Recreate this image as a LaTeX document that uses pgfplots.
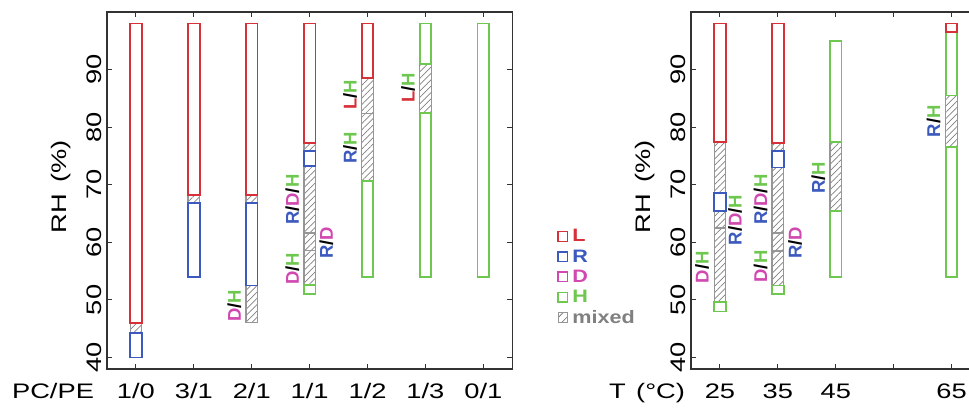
\documentclass[border=0pt]{standalone}
\usepackage{fontspec}
\setmainfont{Liberation Sans}[FakeStretch=1.3]
\newfontfamily\annfont{Liberation Sans}
\newfontfamily\legfont{Liberation Sans}[FakeStretch=1.2]
\usepackage{pgfplots}
\pgfplotsset{compat=1.18}
\usetikzlibrary{patterns.meta}
\definecolor{cL}{RGB}{214,48,56}
\definecolor{cR}{RGB}{60,90,190}
\definecolor{cD}{RGB}{208,72,176}
\definecolor{cH}{RGB}{110,200,80}
\definecolor{cM}{RGB}{150,150,150}
\definecolor{axc}{RGB}{50,50,50}
% segment: left x, right x, low RH, high RH, style
\newcommand\seg[5]{\addplot[#5] coordinates {(#1,#3) (#2,#3) (#2,#4) (#1,#4) (#1,#3) (#2,#3)};}
\newcommand\ann[3]{\node[rotate=90,font=\annfont\bfseries\fontsize{18.5}{20}\selectfont,inner sep=0pt] at (axis cs:#1,#2) {#3};}
\pgfplotsset{
  sBase/.style={sharp plot,mark=none,fill=none,line join=miter,forget plot},
  sL/.style={sBase,draw=cL,line width=1.8pt},
  sR/.style={sBase,draw=cR,line width=1.8pt},
  sD/.style={sBase,draw=cD,line width=1.8pt},
  sH/.style={sBase,draw=cH,line width=1.8pt},
  sM/.style={sBase,draw=cM,line width=1.3pt,pattern={Lines[angle=45,distance=4.5pt,line width=0.7pt]},pattern color=gray},
  panel/.style={
    scale only axis, anchor=south west, height=357pt,
    ymin=38, ymax=100, ytick={40,50,...,90},
    tick align=inside, major tick length=5pt,
    tick style={axc,line width=1pt},
    axis line style={axc,line width=1.2pt},
    /pgf/number format/assume math mode=true,
    tick label style={font=\fontsize{21}{24}\selectfont},
    label style={font=\fontsize{21}{24}\selectfont},
    yticklabel style={rotate=90,anchor=south,inner sep=5.5pt},
    xticklabel style={anchor=base,yshift=-30pt,inner sep=0pt},
    clip=false,
  },
}
\begin{document}
\begin{tikzpicture}
\useasboundingbox (0,0) rectangle (969pt,409pt);
\clip (0,0) rectangle (969pt,409pt);
% ---------------- left panel: PC/PE ----------------
\begin{axis}[panel, at={(107pt,40pt)}, width=405.3pt,
  xmin=-0.5, xmax=6.5, xtick={0,1,2,3,4,5,6},
  xticklabels={1/0,3/1,2/1,1/1,1/2,1/3,0/1},
  xlabel={PC/PE}, xlabel style={at={(axis description cs:-0.1332,-0.084)},anchor=base,inner sep=0pt},
  ylabel={RH\, (\%)}, ylabel style={at={(axis description cs:-0.1135,0.51)},anchor=center},
  legend style={at={(axis description cs:1.111,0.394)},anchor=north west,draw=none,fill=none,
    font=\legfont\bfseries\fontsize{18}{20}\selectfont,inner sep=0pt,row sep=4.3pt,
    nodes={inner sep=1pt}},
  legend cell align=left,
]
\addlegendimage{legend image code/.code={\draw[cL,line width=1.4pt] (0pt,-4.8pt) rectangle (9.6pt,4.8pt);}}
\addlegendentry{\,\textcolor{cL}{L}}
\addlegendimage{legend image code/.code={\draw[cR,line width=1.4pt] (0pt,-4.8pt) rectangle (9.6pt,4.8pt);}}
\addlegendentry{\,\textcolor{cR}{R}}
\addlegendimage{legend image code/.code={\draw[cD,line width=1.4pt] (0pt,-4.8pt) rectangle (9.6pt,4.8pt);}}
\addlegendentry{\,\textcolor{cD}{D}}
\addlegendimage{legend image code/.code={\draw[cH,line width=1.4pt] (0pt,-4.8pt) rectangle (9.6pt,4.8pt);}}
\addlegendentry{\,\textcolor{cH}{H}}
\addlegendimage{legend image code/.code={\draw[cM,line width=1.1pt,pattern={Lines[angle=45,distance=6pt,line width=0.8pt]},pattern color=gray] (0pt,-4.8pt) rectangle (9.6pt,4.8pt);}}
\addlegendentry{\,\textcolor{gray}{mixed}}
% mixed segments
\seg{-0.1}{0.1}{44.3}{46.0}{sM}
\seg{0.9}{1.1}{66.8}{68.2}{sM}
\seg{1.9}{2.1}{66.8}{68.2}{sM}
\seg{1.9}{2.1}{46.1}{52.5}{sM}
\seg{2.9}{3.1}{75.8}{77.2}{sM}
\seg{2.9}{3.1}{61.6}{73.2}{sM}
\seg{2.9}{3.1}{58.6}{61.6}{sM}
\seg{2.9}{3.1}{52.6}{58.6}{sM}
\seg{3.9}{4.1}{82.4}{88.5}{sM}
\seg{3.9}{4.1}{70.6}{82.4}{sM}
\seg{4.9}{5.1}{82.5}{91.0}{sM}
% pure phases
\seg{-0.1}{0.1}{46.0}{98.0}{sL}
\seg{-0.1}{0.1}{40.0}{44.3}{sR}
\seg{0.9}{1.1}{68.2}{98.0}{sL}
\seg{0.9}{1.1}{54.0}{66.8}{sR}
\seg{1.9}{2.1}{68.2}{98.0}{sL}
\seg{1.9}{2.1}{52.5}{66.8}{sR}
\seg{2.9}{3.1}{77.2}{98.0}{sL}
\seg{2.9}{3.1}{73.2}{75.8}{sR}
\seg{2.9}{3.1}{51.0}{52.6}{sH}
\seg{3.9}{4.1}{88.5}{98.0}{sL}
\seg{3.9}{4.1}{54.0}{70.6}{sH}
\seg{4.9}{5.1}{91.0}{98.0}{sH}
\seg{4.9}{5.1}{54.0}{82.5}{sH}
\seg{5.9}{6.1}{54.0}{98.0}{sH}
% labels
\ann{1.7}{49.0}{\textcolor{cD}{D}/\textcolor{cH}{H}}
\ann{2.7}{67.4}{\textcolor{cR}{R}/\textcolor{cD}{D}/\textcolor{cH}{H}}
\ann{2.7}{55.4}{\textcolor{cD}{D}/\textcolor{cH}{H}}
\ann{3.29}{59.9}{\textcolor{cR}{R}/\textcolor{cD}{D}}
\ann{3.7}{76.4}{\textcolor{cR}{R}/\textcolor{cH}{H}}
\ann{3.7}{85.6}{\textcolor{cL}{L}/\textcolor{cH}{H}}
\ann{4.7}{86.8}{\textcolor{cL}{L}/\textcolor{cH}{H}}
\end{axis}
% ---------------- right panel: T ----------------
\begin{axis}[panel, at={(691pt,40pt)}, width=289.5pt,
  xmin=20, xmax=70, xtick={25,35,45,55,65},
  xticklabels={25,35,45,,65},
  xlabel={T\enspace(°C)}, xlabel style={at={(axis description cs:-0.152,-0.084)},anchor=base,inner sep=0pt},
  ylabel={RH\, (\%)}, ylabel style={at={(axis description cs:-0.159,0.51)},anchor=center},
]
% mixed segments
\seg{24}{26}{68.5}{77.4}{sM}
\seg{24}{26}{62.5}{65.5}{sM}
\seg{24}{26}{49.6}{62.5}{sM}
\seg{34}{36}{75.8}{77.2}{sM}
\seg{34}{36}{61.6}{73.0}{sM}
\seg{34}{36}{58.5}{61.6}{sM}
\seg{34}{36}{52.5}{58.5}{sM}
\seg{44}{46}{65.5}{77.4}{sM}
\seg{64}{66}{76.6}{85.5}{sM}
% pure phases
\seg{24}{26}{77.4}{98.0}{sL}
\seg{24}{26}{65.5}{68.5}{sR}
\seg{24}{26}{48.0}{49.6}{sH}
\seg{34}{36}{77.2}{98.0}{sL}
\seg{34}{36}{73.0}{75.8}{sR}
\seg{34}{36}{51.0}{52.5}{sH}
\seg{44}{46}{77.4}{95.0}{sH}
\seg{44}{46}{54.0}{65.5}{sH}
\seg{64}{66}{85.5}{96.5}{sH}
\seg{64}{66}{54.0}{76.6}{sH}
\seg{64}{66}{96.5}{98.0}{sL}
% labels
\ann{21.9}{55.7}{\textcolor{cD}{D}/\textcolor{cH}{H}}
\ann{27.6}{63.9}{\textcolor{cR}{R}/\textcolor{cD}{D}/\textcolor{cH}{H}}
\ann{32.0}{55.8}{\textcolor{cD}{D}/\textcolor{cH}{H}}
\ann{32.0}{67.4}{\textcolor{cR}{R}/\textcolor{cD}{D}/\textcolor{cH}{H}}
\ann{38.0}{59.9}{\textcolor{cR}{R}/\textcolor{cD}{D}}
\ann{42.0}{71.2}{\textcolor{cR}{R}/\textcolor{cH}{H}}
\ann{61.9}{81.0}{\textcolor{cR}{R}/\textcolor{cH}{H}}
\end{axis}
\end{tikzpicture}
\end{document}
